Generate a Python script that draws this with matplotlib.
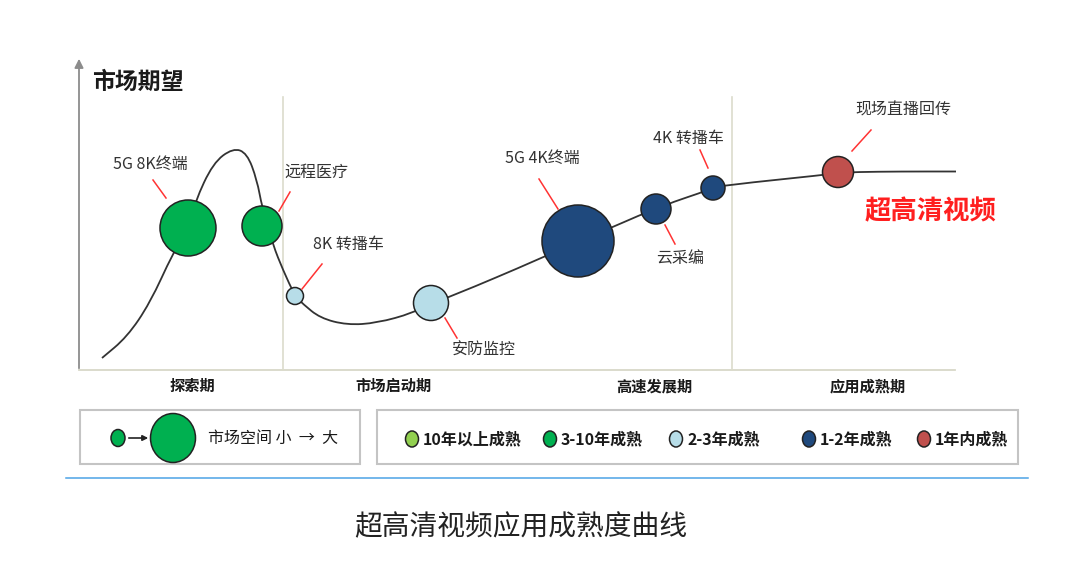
import numpy as np
import matplotlib
matplotlib.use("Agg")
import matplotlib.pyplot as plt
from matplotlib.path import Path
from matplotlib.patches import PathPatch, Circle, Ellipse, Rectangle

plt.rcParams['font.family'] = ['Noto Sans CJK SC', 'DejaVu Sans']

# ---------------- data (pixel-like units) ----------------
curve_x = [102, 127, 150, 173, 188, 195, 213, 233, 247, 257, 262, 273, 283, 295,
           303, 320, 347, 377, 413, 431, 450, 542, 578, 613, 640, 656, 673, 700,
           713, 727, 823, 838, 856, 900, 956]
curve_y = [358, 337, 303, 253, 228, 202, 163, 148, 153, 180, 207, 245, 270, 296,
           304, 318, 325, 323, 313, 303, 297, 258, 241, 227, 215, 209, 202, 193,
           188, 185, 175, 173, 172, 171.5, 171.5]

apps = ['5G 8K终端', '远程医疗', '8K 转播车', '安防监控', '5G 4K终端', '云采编', '4K 转播车', '现场直播回传']
app_x = [188, 262, 295, 431, 578, 656, 713, 838]
app_y = [228, 226, 296, 303, 241, 209, 188, 172]
app_size = [28, 20, 8.5, 17.5, 36, 15, 12, 15.5]
app_maturity = ['3-10年成熟', '3-10年成熟', '2-3年成熟', '2-3年成熟',
                '1-2年成熟', '1-2年成熟', '1-2年成熟', '1年内成熟']

phases = ['探索期', '市场启动期', '高速发展期', '应用成熟期']
maturity_levels = ['10年以上成熟', '3-10年成熟', '2-3年成熟', '1-2年成熟', '1年内成熟']

# ---------------- styles / layout ----------------
mat_colors = {'10年以上成熟': '#92d050', '3-10年成熟': '#00b050', '2-3年成熟': '#b7dde8',
              '1-2年成熟': '#1f497d', '1年内成熟': '#c0504d'}
# label centre and leader line (x0, y0, x1, y1)
label_pos = [(150, 164), (316, 172), (348, 244), (484, 350), (542, 158), (680, 258), (688, 138), (903, 110)]
leader = [(153, 180, 166, 198), (290, 192, 279, 211), (322, 264, 302, 289), (445, 318, 457, 338),
          (539, 179, 558, 209), (665, 225, 675, 244), (700, 150, 708, 168), (871, 130, 852, 151)]
phase_x = [192, 394, 654, 868]
legend_x = [412, 550, 676, 809, 924]

fig = plt.figure(figsize=(10.68, 5.61), dpi=100)
ax = fig.add_axes([0, 0, 1, 1])
ax.set_xlim(0, 1068)
ax.set_ylim(561, 0)
ax.axis('off')

# axes of the diagram
ax.annotate('', xy=(79, 56), xytext=(79, 371),
            arrowprops=dict(arrowstyle='-|>', color='#8c8c8c', lw=1.3, mutation_scale=13))
ax.plot([79, 955], [370, 370], color='#d8d8c8', lw=1.3)
for xv in (283, 732):
    ax.plot([xv, xv], [97, 370], color='#dcdccc', lw=1.2)

ax.text(92, 82, '市场期望', fontsize=16.5, fontweight='bold', color='#1a1a1a', va='center', ha='left')

# curve
pts = np.column_stack([curve_x, curve_y]).astype(float)
mids = (pts[:-1] + pts[1:]) / 2
verts = [pts[0], mids[0]]
codes = [Path.MOVETO, Path.LINETO]
for i in range(1, len(pts) - 1):
    verts += [pts[i], mids[i]]
    codes += [Path.CURVE3, Path.CURVE3]
verts.append(pts[-1])
codes.append(Path.LINETO)
ax.add_patch(PathPatch(Path(verts, codes), facecolor='none', edgecolor='#333333', lw=1.3, zorder=2))

# bubbles, labels, leader lines
for name, x, y, r, m, (lx, ly), (a, b, c, d) in zip(apps, app_x, app_y, app_size, app_maturity, label_pos, leader):
    ax.add_patch(Circle((x, y), r, facecolor=mat_colors[m], edgecolor='#222222', lw=1.1, zorder=3))
    ax.plot([a, c], [b, d], color='#ff3333', lw=1.1, zorder=3)
    ax.text(lx, ly, name, fontsize=11.5, color='#333333', ha='center', va='center')

ax.text(931, 212, '超高清视频', fontsize=19, fontweight='bold', color='#ff1f1f', ha='center', va='center')

for p, px in zip(phases, phase_x):
    ax.text(px, 386, p, fontsize=11, fontweight='bold', color='#1a1a1a', ha='center', va='center')

# legend boxes
ax.add_patch(Rectangle((80, 410), 280, 54, facecolor='white', edgecolor='#c4c4c4', lw=1.5))
ax.add_patch(Rectangle((377, 410), 641, 54, facecolor='white', edgecolor='#c4c4c4', lw=1.5))

ax.add_patch(Ellipse((118, 438), 14, 17, facecolor='#00b050', edgecolor='#222222', lw=1.1))
ax.annotate('', xy=(151, 438), xytext=(126, 438),
            arrowprops=dict(arrowstyle='-|>', color='#222222', lw=1.2, mutation_scale=8))
ax.add_patch(Ellipse((173, 438), 45, 49, facecolor='#00b050', edgecolor='#222222', lw=1.1))
ax.text(208, 438, '市场空间 小  →  大', fontsize=11.5, fontweight='medium', color='#1a1a1a',
        ha='left', va='center')

for lvl, lx in zip(maturity_levels, legend_x):
    ax.add_patch(Ellipse((lx, 439), 13, 16, facecolor=mat_colors[lvl], edgecolor='#222222', lw=1.1))
    ax.text(lx + 11, 439, lvl, fontsize=11.5, fontweight='bold', color='#1a1a1a', ha='left', va='center')

ax.plot([66, 1028], [478, 478], color='#4da3e6', lw=1.1)
ax.text(521, 527, '超高清视频应用成熟度曲线', fontsize=20, color='#222222', ha='center', va='center')

fig.savefig('out.png', dpi=100)
